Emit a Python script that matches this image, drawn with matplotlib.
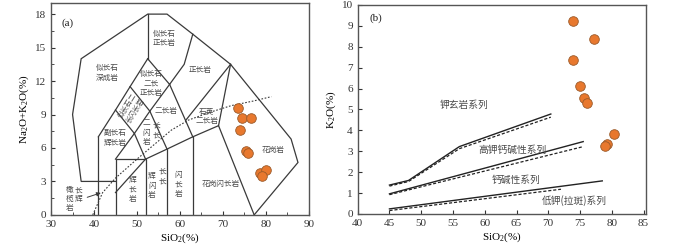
import matplotlib
matplotlib.use("Agg")
from matplotlib import pyplot as plt
from matplotlib.ticker import MultipleLocator

plt.rcParams['font.family'] = ['Liberation Serif', 'Noto Sans CJK SC']
plt.rcParams['mathtext.fontset'] = 'custom'
plt.rcParams['mathtext.rm'] = 'Liberation Serif'
plt.rcParams['mathtext.it'] = 'Liberation Serif:italic'

LINE = '#3a3a3a'
TXT = '#4a4a4a'
CJK = ['Noto Sans CJK SC', 'Liberation Serif']

# --- sample data (a): TAS ---
tas_sio2 = [73.6, 74.5, 76.6, 73.9, 75.5, 75.9, 78.7, 80.1, 79.2]
tas_alk = [9.55, 8.66, 8.66, 7.59, 5.71, 5.54, 3.75, 4.02, 3.48]

# --- sample data (b): SiO2 - K2O ---
k_sio2 = [73.9, 77.2, 73.9, 75.0, 75.6, 76.1, 80.4, 79.3, 79.0]
k2o = [9.23, 8.37, 7.37, 6.12, 5.55, 5.31, 3.83, 3.35, 3.25]

# Middlemost (1994) plutonic TAS template, polylines (SiO2, Na2O+K2O)
tas_lines = [
    [(41, 0), (41, 7)],
    [(45, 3), (37, 3), (35, 9), (37, 14), (52.5, 18), (57, 18), (63, 16.2),
     (71.8, 13.5), (85.9, 6.8), (87.5, 4.7), (77.3, 0)],
    [(45, 0), (45, 5), (52, 5), (52, 0)],
    [(52, 5), (57, 5.9), (63, 7), (69, 8), (77.3, 0)],
    [(57, 0), (57, 5.9)],
    [(63, 0), (63, 7)],
    [(69, 8), (71.8, 13.5)],
    [(45, 5), (49.4, 7.3), (53, 9.3), (57.6, 11.7)],
    [(52, 5), (49.4, 7.3)],
    [(57, 5.9), (53, 9.3)],
    [(63, 7), (57.6, 11.7)],
    [(41, 7), (45, 9.4), (48.4, 11.5), (52.5, 14)],
    [(45, 9.4), (49.4, 7.3)],
    [(48.4, 11.5), (53, 9.3)],
    [(52.5, 14), (57.6, 11.7), (61, 13.5), (63, 16.2)],
    [(52.5, 14), (52.5, 18)],
    [(61.4, 8.5), (71.8, 13.5)],
    [(45, 2), (52, 5)],
]
irvine_x = [39.7, 42, 45, 50, 54, 58, 62, 67, 72, 77, 81.3]
irvine_y = [0, 2.0, 3.3, 5.0, 6.3, 7.6, 8.5, 9.2, 9.8, 10.2, 10.6]

tas_names = [
    (43.0, 12.7, '似长石\n深成岩'),
    (56.3, 15.8, '似长石\n正长岩'),
    (64.6, 13.0, '正长岩'),
    (53.3, 11.8, '似长石\n二长\n正长岩'),
    (56.8, 9.3, '二长岩'),
    (66.2, 8.8, '石英\n二长岩'),
    (44.8, 6.9, '副长石\n辉长岩'),
    (49.0, 2.3, '辉\n长\n岩'),
    (59.6, 2.7, '闪\n长\n岩'),
    (69.5, 2.8, '花岗闪长岩'),
    (81.7, 5.8, '花岗岩'),
]

# Peccerillo & Taylor series lines (SiO2, K2O)
series_solid = [
    ([45, 48, 56, 70.4], [1.38, 1.6, 3.22, 4.78]),
    ([45, 75.5], [0.96, 3.46]),
    ([45, 78.5], [0.24, 1.58]),
]
series_dash = [
    ([45, 48, 56, 70.4], [1.33, 1.55, 3.12, 4.63]),
    ([45, 75.5], [0.92, 3.22]),
    ([45, 72], [0.16, 1.18]),
]
series_names = [
    (56.7, 5.2, '钾玄岩系列'),
    (64.3, 3.06, '高钾钙碱性系列'),
    (64.9, 1.63, '钙碱性系列'),
    (74.1, 0.62, '低钾(拉斑)系列'),
]

fig = plt.figure(figsize=(7, 2.47), dpi=100)
ax1 = fig.add_axes([0.073, 0.130, 0.368, 0.858])
ax2 = fig.add_axes([0.511, 0.134, 0.412, 0.846])

for ax in (ax1, ax2):
    for s in ax.spines.values():
        s.set_color('#555555')
        s.set_linewidth(1.0)
    ax.tick_params(which='both', direction='in', top=False, right=False,
                   labelsize=8, colors='#333333')
    ax.tick_params(which='major', length=3, width=0.8)
    ax.tick_params(which='minor', length=2, width=0.6)

# ---- panel (a)
for seg in tas_lines:
    xs = [p[0] for p in seg]
    ys = [p[1] for p in seg]
    ax1.plot(xs, ys, color=LINE, lw=0.9, solid_joinstyle='miter')
ax1.plot(irvine_x, irvine_y, color=LINE, lw=0.8, ls=(0, (1.5, 1.5)))
for x, y, t in tas_names:
    ax1.text(x, y, t, fontsize=5.5, family=CJK, color=TXT, ha='center',
             va='center', linespacing=1.25)
# zigzag labels
for x, y, t in [(53.5, 3.5, '辉'), (53.5, 2.6, '闪'), (53.5, 1.8, '岩'),
                (55.9, 3.9, '长'), (55.9, 3.0, '长'),
                (52.2, 8.2, '二'), (52.2, 7.3, '闪'), (52.2, 6.5, '岩'),
                (54.5, 8.0, '长'), (54.5, 7.1, '长'),
                (34.2, 2.2, '橄'), (34.2, 1.4, '榄'), (34.2, 0.6, '岩'),
                (36.3, 2.2, '长'), (36.3, 1.4, '辉')]:
    ax1.text(x, y, t, fontsize=5.5, family=CJK, color=TXT, ha='center',
             va='center')
ax1.text(48.8, 9.6, '似长石二\n长闪长岩', fontsize=5, family=CJK, color=TXT,
         ha='center', va='center', rotation=58, linespacing=1.2)
ax1.annotate('', xy=(42.2, 2.05), xytext=(37.8, 1.5),
             arrowprops=dict(arrowstyle='-|>', color=LINE, lw=0.7,
                             mutation_scale=6))
ax1.scatter(tas_sio2, tas_alk, s=48, color='#E8782E', edgecolors='#9a5a2a',
            linewidths=0.6, zorder=5)
ax1.text(32.5, 17.0, '(a)', fontsize=8, color='#222222')
ax1.set_xlim(30, 90)
ax1.set_ylim(0, 19)
ax1.xaxis.set_major_locator(MultipleLocator(10))
ax1.xaxis.set_minor_locator(MultipleLocator(5))
ax1.yaxis.set_major_locator(MultipleLocator(3))
ax1.yaxis.set_minor_locator(MultipleLocator(1.5))
ax1.set_xlabel('SiO$_2$(%)', fontsize=8, labelpad=2)
ax1.set_ylabel('Na$_2$O+K$_2$O(%)', fontsize=8, labelpad=3)

# ---- panel (b)
for xs, ys in series_solid:
    ax2.plot(xs, ys, color='#222222', lw=1.0)
for xs, ys in series_dash:
    ax2.plot(xs, ys, color='#222222', lw=0.9, ls=(0, (2.5, 1.5)))
for x, y, t in series_names:
    ax2.text(x, y, t, fontsize=7, family=CJK, color=TXT, ha='center',
             va='center')
ax2.scatter(k_sio2, k2o, s=48, color='#E8782E', edgecolors='#9a5a2a',
            linewidths=0.6, zorder=5)
ax2.text(41.8, 9.25, '(b)', fontsize=8, color='#222222')
ax2.set_xlim(40, 85.4)
ax2.set_ylim(0, 10)
ax2.xaxis.set_major_locator(MultipleLocator(5))
ax2.yaxis.set_major_locator(MultipleLocator(1))
ax2.set_xlabel('SiO$_2$(%)', fontsize=8, labelpad=2)
ax2.set_ylabel('K$_2$O(%)', fontsize=8, labelpad=3)

fig.savefig('out.png', dpi=100)
